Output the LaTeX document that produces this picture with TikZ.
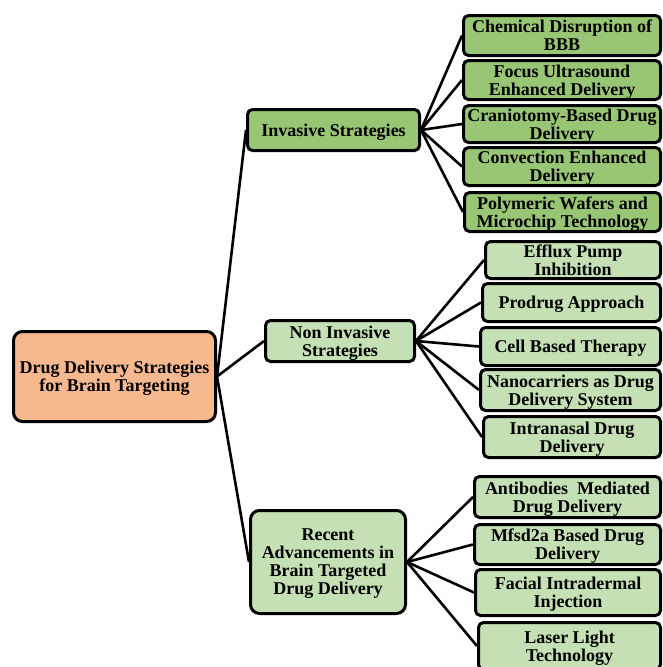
\documentclass[tikz,border=0pt]{standalone}
\usepackage{fontspec}
\setmainfont{Liberation Serif}
\definecolor{rootc}{HTML}{F6B88E}
\definecolor{gdark}{HTML}{98C674}
\definecolor{glight}{HTML}{C5E0B4}
\begin{document}
\begin{tikzpicture}[x=1pt,y=-1pt,
  box/.style={draw=black, line width=3pt, rounded corners=5pt, inner sep=0pt, align=center,
    text depth=0pt, font=\fontsize{18}{18}\selectfont\bfseries},
  rootbox/.style={box, fill=rootc, rounded corners=9pt},
  invbox/.style={box, fill=gdark},
  libox/.style={box, fill=glight},
  conn/.style={draw=black, line width=2.6pt}]
\useasboundingbox (0,0) rectangle (663,667);
\clip (0,0) rectangle (663,667);
% root
\node[rootbox, minimum width=202pt, minimum height=90pt] (root) at (114.5,376.5) {Drug Delivery Strategies\\for Brain Targeting};
% level 1
\node[invbox, minimum width=172pt, minimum height=41pt] (inv) at (333.5,130) {Invasive Strategies};
\node[libox, minimum width=149pt, minimum height=41pt] (non) at (340,341) {Non Invasive\\Strategies};
\node[libox, minimum width=155pt, minimum height=103pt, rounded corners=9pt] (rec) at (328,562) {Recent\\Advancements in\\Brain Targeted\\Drug Delivery};
% invasive children
\node[invbox, minimum width=197pt, minimum height=40pt] (i1) at (562,35.5) {Chemical Disruption of\\BBB};
\node[invbox, minimum width=197pt, minimum height=39pt] (i2) at (562,80) {Focus Ultrasound\\Enhanced Delivery};
\node[invbox, minimum width=197pt, minimum height=37pt] (i3) at (562,124) {Craniotomy-Based Drug\\Delivery};
\node[invbox, minimum width=197pt, minimum height=38pt] (i4) at (562,166.5) {Convection Enhanced\\Delivery};
\node[invbox, minimum width=196pt, minimum height=39pt] (i5) at (562.5,212) {Polymeric Wafers and\\Microchip Technology};
% non invasive children
\node[libox, minimum width=175pt, minimum height=37pt] (n1) at (573,260) {Efflux Pump\\Inhibition};
\node[libox, minimum width=178pt, minimum height=38pt] (n2) at (571.5,302.5) {Prodrug Approach};
\node[libox, minimum width=180pt, minimum height=38pt] (n3) at (570.5,346.5) {Cell Based Therapy};
\node[libox, minimum width=180pt, minimum height=41pt] (n4) at (570.5,390) {Nanocarriers as Drug\\Delivery System};
\node[libox, minimum width=177pt, minimum height=41pt] (n5) at (572,437) {Intranasal Drug\\Delivery};
% recent children
\node[libox, minimum width=186pt, minimum height=41pt] (r1) at (567.5,497) {Antibodies\ \ Mediated\\Drug Delivery};
\node[libox, minimum width=186pt, minimum height=40pt] (r2) at (567.5,544.5) {Mfsd2a Based Drug\\Delivery};
\node[libox, minimum width=185pt, minimum height=46pt] (r3) at (568,592.5) {Facial Intradermal\\Injection};
\node[libox, minimum width=182pt, minimum height=47pt] (r4) at (569.5,646) {Laser Light\\Technology};
% connectors
\foreach \t in {inv,non,rec} \draw[conn] (root.east) -- (\t.west);
\foreach \t in {i1,i2,i3,i4,i5} \draw[conn] (inv.east) -- (\t.west);
\foreach \t in {n1,n2,n3,n4,n5} \draw[conn] (non.east) -- (\t.west);
\foreach \t in {r1,r2,r3,r4} \draw[conn] (rec.east) -- (\t.west);
\end{tikzpicture}
\end{document}
